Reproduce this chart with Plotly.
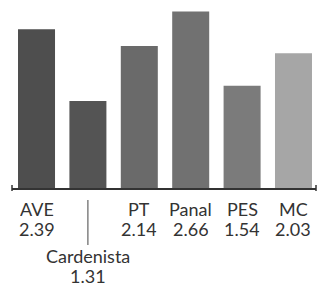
import plotly.graph_objects as go

parties = ["AVE", "Cardenista", "PT", "Panal", "PES", "MC"]
values = [2.39, 1.31, 2.14, 2.66, 1.54, 2.03]
colors = ["#4e4e4e", "#545454", "#6a6a6a", "#717171", "#7b7b7b", "#a6a6a6"]

# page has an 8px body margin; figure coordinates are offset by it
OFF = 8
W, H = 325 - OFF, 287 - OFF
plot_bottom_page = 188
plot_top_page = 8
px_per_unit = 66.4
plot_h = plot_bottom_page - plot_top_page

x = list(range(len(parties)))
fig = go.Figure(go.Bar(x=x, y=values, marker=dict(color=colors, line=dict(width=0)),
                       width=0.72, hoverinfo="skip"))

def py(p):
    # page pixel y -> paper y
    return (plot_bottom_page - p) / plot_h

font = dict(family="Lato", size=18, color="#333333")
ann = []
for i, (p, v) in enumerate(zip(parties, values)):
    if p == "Cardenista":
        ys = (255.5, 275.5)
    else:
        ys = (208.5, 229)
    ann.append(dict(x=i, y=py(ys[0]), xref="x", yref="paper", text=p, showarrow=False,
                    xanchor="center", yanchor="middle", font=font, height=19))
    ann.append(dict(x=i, y=py(ys[1]), xref="x", yref="paper", text=f"{v:.2f}", showarrow=False,
                    xanchor="center", yanchor="middle", font=font, height=18))

shapes = [
    dict(type="line", xref="x", yref="paper", x0=1, x1=1, y0=py(200), y1=py(245),
         line=dict(color="#444444", width=1)),
    dict(type="line", xref="paper", yref="paper", x0=0, x1=0, y0=py(185), y1=py(191),
         line=dict(color="#333333", width=1.5)),
    dict(type="line", xref="paper", yref="paper", x0=1, x1=1, y0=py(185), y1=py(191),
         line=dict(color="#333333", width=1.5)),
]

fig.update_layout(
    width=W, height=H,
    margin=dict(l=12 - OFF, r=9, t=plot_top_page - OFF, b=H - (plot_bottom_page - OFF), pad=0),
    paper_bgcolor="white", plot_bgcolor="white",
    showlegend=False,
    xaxis=dict(range=[-0.477, 5.438], showline=True, linecolor="#333333", linewidth=1.5,
               showticklabels=False, ticks="", showgrid=False, zeroline=False, fixedrange=True),
    yaxis=dict(range=[0, plot_h / px_per_unit], visible=False, showgrid=False, zeroline=False,
               fixedrange=True),
    annotations=ann, shapes=shapes,
)

fig.write_html("out.html", config={"displayModeBar": False})
